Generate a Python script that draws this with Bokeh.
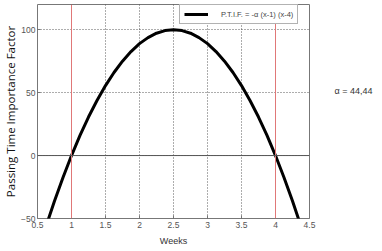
from bokeh.plotting import figure
from bokeh.layouts import row
from bokeh.models import Span, Legend, LegendItem, FixedTicker, Label
from bokeh.embed import file_html
from bokeh.resources import INLINE

weeks = [0.625, 0.75, 0.875, 1.0, 1.125, 1.25, 1.375, 1.5, 1.625, 1.75, 1.875, 2.0,
         2.125, 2.25, 2.375, 2.5, 2.625, 2.75, 2.875, 3.0, 3.125, 3.25, 3.375, 3.5,
         3.625, 3.75, 3.875, 4.0, 4.125, 4.25, 4.375]
ptif = [-56.2, -36.1, -17.4, 0.0, 16.0, 30.6, 43.7, 55.6, 66.0, 75.0, 82.6, 88.9,
        93.7, 97.2, 99.3, 100.0, 99.3, 97.2, 93.7, 88.9, 82.6, 75.0, 66.0, 55.6,
        43.7, 30.6, 16.0, 0.0, -17.4, -36.1, -56.2]
x_ticks = [0.5, 1, 1.5, 2, 2.5, 3, 3.5, 4, 4.5]
y_ticks = [-50, 0, 50, 100]
roots = [1, 4]
legend_text = "P.T.I.F. = -\u03b1 (x-1) (x-4)"
alpha_text = "\u03b1 = 44,44"

p = figure(width=318, height=251, x_range=(0.5, 4.5), y_range=(-50, 120),
           output_backend="svg", toolbar_location=None,
           min_border_left=37, min_border_right=9, min_border_top=4, min_border_bottom=33)

p.outline_line_color = "#777777"
p.outline_line_width = 1
for ax in (p.xaxis, p.yaxis):
    ax.axis_line_color = None
    ax.major_tick_line_color = "#777777"
    ax.major_tick_in = 3
    ax.major_tick_out = 0
    ax.minor_tick_line_color = None
    ax.major_label_text_color = "#555555"
    ax.major_label_text_font = "Liberation Sans"
    ax.major_label_text_font_size = "8.5px"
p.xaxis.ticker = FixedTicker(ticks=x_ticks)
p.yaxis.ticker = FixedTicker(ticks=y_ticks)
p.xaxis.major_label_standoff = 3
p.yaxis.major_label_standoff = 2
p.xaxis.axis_label = "Weeks"
p.xaxis.axis_label_text_font = "Liberation Sans"
p.xaxis.axis_label_text_font_style = "normal"
p.xaxis.axis_label_text_font_size = "9px"
p.xaxis.axis_label_text_color = "#333333"
p.xaxis.axis_label_standoff = 5
p.yaxis.axis_label = "Passing Time Importance Factor"
p.yaxis.axis_label_text_font = "Open Sans"
p.yaxis.axis_label_text_font_style = "normal"
p.yaxis.axis_label_text_font_size = "11.5px"
p.yaxis.axis_label_text_color = "#111111"
p.yaxis.axis_label_standoff = 0

for g in (p.xgrid, p.ygrid):
    g.grid_line_color = "#333333"
    g.grid_line_dash = "1 2"
    g.grid_line_width = 1
    g.grid_line_alpha = 0.8

for r in roots:
    p.add_layout(Span(location=r, dimension="height", line_color="#e07878", line_width=1))
p.add_layout(Span(location=0, dimension="width", line_color="#555555", line_width=1))

line = p.line(weeks, ptif, line_color="black", line_width=3)

legend = Legend(items=[LegendItem(label=legend_text, renderers=[line])],
                location=(142, 194), margin=0, padding=4, spacing=0,
                glyph_width=24, glyph_height=10, label_height=10,
                label_text_font="Liberation Sans", label_text_font_size="7.5px",
                label_text_color="#444444", border_line_color="#666666",
                label_standoff=13, background_fill_alpha=1)
p.add_layout(legend)

side = figure(width=64, height=251, x_range=(0, 1), y_range=(0, 1),
              output_backend="svg", toolbar_location=None,
              x_axis_type=None, y_axis_type=None,
              min_border_left=0, min_border_right=0, min_border_top=0, min_border_bottom=0)
side.outline_line_color = None
side.grid.visible = False
side.add_layout(Label(x=0.25, y=0.598, text=alpha_text,
                      text_font="Liberation Sans", text_font_size="9px",
                      text_color="#333333", text_align="left", text_baseline="middle"))

open("out.html", "w").write(file_html(row(p, side, spacing=0), INLINE))
